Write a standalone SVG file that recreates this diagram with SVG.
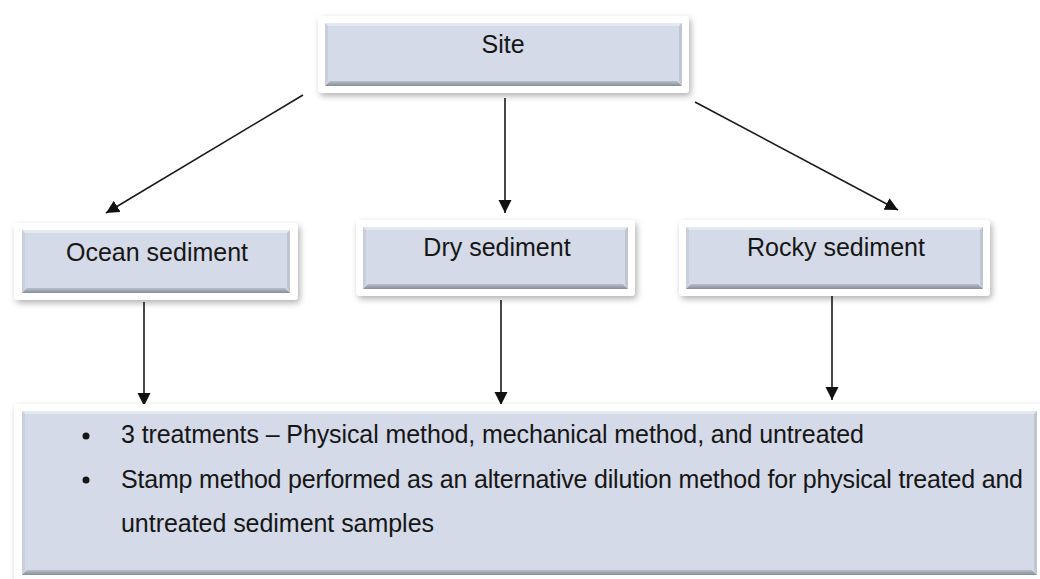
<svg xmlns="http://www.w3.org/2000/svg" width="1040" height="579" viewBox="0 0 1040 579">
<style>
.frame{fill:#ffffff;filter:url(#sh)}
.face{fill:#d4dae7}
.bt{fill:#e4e8f1}
.bb{fill:url(#gb)}
.bl{fill:#c8cedb}
.br{fill:#bfc5d2}
.lbl{font-family:"Liberation Sans",Arial,sans-serif;font-size:25px;fill:#161616}
.conn{stroke:#1a1a1a;stroke-width:1.6;fill:none;marker-end:url(#ah)}
</style>
<defs>
<filter id="sh" x="-10%" y="-20%" width="120%" height="150%">
<feDropShadow dx="2" dy="3" stdDeviation="3" flood-color="#000" flood-opacity="0.3"/>
</filter>
<linearGradient id="gb" x1="0" y1="0" x2="0" y2="1">
<stop offset="0" stop-color="#b9bfcb"/>
<stop offset="1" stop-color="#868c98"/>
</linearGradient>
<marker id="ah" markerUnits="userSpaceOnUse" markerWidth="14" markerHeight="14" viewBox="0 0 14 14" refX="13" refY="7" orient="auto">
<path d="M0,0.5 L13,7 L0,13.5 Z" fill="#111"/>
</marker>
</defs>
<rect width="1040" height="579" fill="#ffffff"/>

<g id="connectors">
<line class="conn" x1="303" y1="95" x2="106" y2="213"/>
<line class="conn" x1="505" y1="98" x2="505" y2="213"/>
<line class="conn" x1="695" y1="102" x2="898" y2="210"/>
<line class="conn" x1="144" y1="302" x2="144" y2="406"/>
<line class="conn" x1="501" y1="300" x2="501" y2="405"/>
<line class="conn" x1="832" y1="295" x2="832" y2="400"/>
</g>

<g id="site">
<rect class="frame" x="318" y="16" width="371" height="77" rx="4"/>
<rect class="face" x="325" y="23" width="357" height="63"/>
<path class="bt" d="M325,23 H682 L679,26 H328 Z"/>
<path class="bb" d="M325,86 H682 L677,81 H330 Z"/>
<path class="bl" d="M325,23 L328,26 V81 L325,86 Z"/>
<path class="br" d="M682,23 L679,26 V81 L682,86 Z"/>
<text class="lbl" x="503" y="53" text-anchor="middle">Site</text>
</g>

<g id="ocean">
<rect class="frame" x="14" y="223" width="284" height="77" rx="4"/>
<rect class="face" x="22" y="230" width="268" height="63"/>
<path class="bt" d="M22,230 H290 L287,233 H25 Z"/>
<path class="bb" d="M22,293 H290 L285,288 H27 Z"/>
<path class="bl" d="M22,230 L25,233 V288 L22,293 Z"/>
<path class="br" d="M290,230 L287,233 V288 L290,293 Z"/>
<text class="lbl" x="157" y="261" text-anchor="middle">Ocean sediment</text>
</g>

<g id="dry">
<rect class="frame" x="356" y="220" width="279" height="76" rx="4"/>
<rect class="face" x="363" y="227" width="265" height="62"/>
<path class="bt" d="M363,227 H628 L625,230 H366 Z"/>
<path class="bb" d="M363,289 H628 L623,284 H368 Z"/>
<path class="bl" d="M363,227 L366,230 V284 L363,289 Z"/>
<path class="br" d="M628,227 L625,230 V284 L628,289 Z"/>
<text class="lbl" x="497" y="256" text-anchor="middle">Dry sediment</text>
</g>

<g id="rocky">
<rect class="frame" x="679" y="220" width="311" height="76" rx="4"/>
<rect class="face" x="686" y="227" width="297" height="62"/>
<path class="bt" d="M686,227 H983 L980,230 H689 Z"/>
<path class="bb" d="M686,289 H983 L978,284 H691 Z"/>
<path class="bl" d="M686,227 L689,230 V284 L686,289 Z"/>
<path class="br" d="M983,227 L980,230 V284 L983,289 Z"/>
<text class="lbl" x="836" y="256" text-anchor="middle">Rocky sediment</text>
</g>

<g id="treatments">
<rect class="frame" x="14" y="404" width="1034" height="185" rx="4"/>
<rect class="face" x="22" y="411" width="1015" height="164"/>
<path class="bt" d="M22,411 H1037 L1034,414 H25 Z"/>
<path class="bb" d="M22,575 H1037 L1032,570 H27 Z"/>
<path class="bl" d="M22,411 L25,414 V570 L22,575 Z"/>
<path class="br" d="M1037,411 L1034,414 V570 L1037,575 Z"/>
<circle cx="86" cy="436" r="3.5" fill="#161616"/>
<circle cx="86" cy="480" r="3.5" fill="#161616"/>
<text class="lbl" x="121" y="443" textLength="743">3 treatments – Physical method, mechanical method, and untreated</text>
<text class="lbl" x="121" y="488" textLength="902">Stamp method performed as an alternative dilution method for physical treated and</text>
<text class="lbl" x="121" y="532" textLength="313">untreated sediment samples</text>
</g>
</svg>
